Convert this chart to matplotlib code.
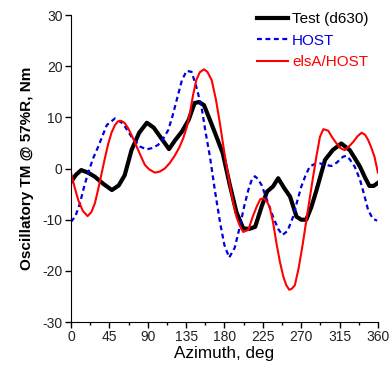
import matplotlib
matplotlib.use("Agg")
import matplotlib.pyplot as plt
from matplotlib.ticker import MultipleLocator

plt.rcParams['font.family'] = ['Liberation Sans', 'DejaVu Sans']
plt.rcParams['axes.unicode_minus'] = False

test_az = [0, 6, 12, 20, 28, 38, 48, 56, 63, 71, 80, 89, 97, 106, 115, 122, 130, 138, 145, 150, 156, 163, 170, 178, 186, 194, 202, 209, 216, 223.5, 230, 237, 243, 250, 257, 264.5, 270, 276, 282, 288, 298, 307, 317, 327, 333, 339, 345, 350, 355, 360]
test_val = [-2.6, -1.2, -0.3, -0.8, -1.6, -3.0, -4.2, -3.3, -1.3, 3.6, 7.0, 8.95, 8.0, 5.9, 3.8, 5.5, 7.2, 9.5, 12.8, 13.0, 12.4, 9.5, 6.5, 3.0, -3.0, -8.5, -11.7, -11.8, -11.4, -7.5, -4.5, -3.5, -1.9, -3.8, -5.5, -9.4, -10.0, -10.0, -7.5, -4.2, 1.7, 3.6, 4.9, 3.6, 2.0, 0.35, -1.8, -3.4, -3.4, -2.8]

host_az = [0, 5, 10.5, 15, 20, 26, 32, 42, 51.6, 61, 71, 81, 88.7, 95, 102, 108, 114, 119, 124, 130, 135.6, 141.5, 147, 153, 158, 163, 169, 175, 180, 185.6, 192, 198, 203, 208, 212, 215.7, 219, 223.5, 230, 237, 243, 248, 254, 260.6, 265, 270, 275, 280, 286, 292, 299, 305.6, 312, 319, 323, 327, 333, 339, 344, 348.5, 354, 359]
host_val = [-10.4, -9.4, -6.8, -3.8, -0.9, 2.0, 4.3, 8.5, 9.8, 8.8, 6.2, 4.3, 3.75, 4.0, 4.6, 5.8, 7.5, 10.2, 13.4, 17.2, 19.1, 18.9, 16.0, 12.1, 7.0, 2.3, -4.5, -10.7, -15.0, -17.4, -15.5, -11.4, -7.5, -4.2, -2.2, -1.5, -2.0, -3.2, -6.2, -9.4, -11.8, -13.0, -12.2, -9.4, -6.6, -3.6, -1.4, 0.4, 0.9, 1.0, 0.7, 0.5, 1.2, 2.3, 2.5, 1.8, 0.3, -2.2, -5.2, -8.1, -9.8, -10.2]

els_az = [0, 4, 8.6, 14, 19.5, 24, 28, 32, 36, 40, 43.8, 47.5, 51.6, 55, 58.6, 63, 67, 72, 77, 82, 86.7, 92, 98.5, 104, 110, 116, 122, 127, 131.6, 136, 139.5, 143, 147, 151, 156, 160, 165, 170, 174.7, 180, 186, 190, 194, 198, 202, 208, 213, 217.7, 222, 226, 230, 233, 237, 241, 245, 249, 252.5, 256, 259, 262.6, 267, 272, 278, 284, 288, 292, 296, 301.7, 306, 311.5, 316, 321, 326, 331, 336, 340.8, 345, 348.5, 352, 356, 360]
els_val = [-0.8, -3.5, -6.2, -8.3, -9.3, -8.5, -6.8, -4.0, -0.9, 2.2, 4.9, 7.0, 8.5, 9.2, 9.35, 8.9, 7.9, 6.2, 4.3, 2.4, 0.7, -0.2, -0.8, -0.6, 0.0, 1.1, 2.6, 4.1, 5.9, 8.2, 10.8, 14.2, 17.3, 18.8, 19.4, 18.9, 17.3, 13.5, 8.8, 3.0, -2.9, -6.5, -9.4, -11.2, -12.4, -12.0, -9.5, -7.5, -6.0, -5.8, -6.5, -7.5, -10.5, -14.6, -18.2, -21.1, -22.8, -23.7, -23.5, -22.8, -19.5, -14.6, -8.0, -1.6, 2.5, 6.2, 7.7, 7.4, 6.2, 4.9, 4.0, 3.6, 4.3, 5.2, 6.3, 7.0, 6.6, 5.6, 4.2, 2.3, -0.8]

x_ticks = [0, 45, 90, 135, 180, 225, 270, 315, 360]
y_ticks = [-30, -20, -10, 0, 10, 20, 30]

fig = plt.figure(figsize=(3.9, 3.68), dpi=100)
ax = fig.add_axes([0.182, 0.125, 0.787, 0.834])

ax.plot(test_az, test_val, color='black', lw=3.0, label='Test (d630)', solid_joinstyle='round')
ax.plot(host_az, host_val, color='#0000dd', lw=1.6, ls=(0, (2.2, 1.6)), label='HOST')
ax.plot(els_az, els_val, color='red', lw=1.5, label='elsA/HOST')

ax.set_xlim(0, 360)
ax.set_ylim(-30, 30)
ax.set_xticks(x_ticks)
ax.set_yticks(y_ticks)
ax.xaxis.set_minor_locator(MultipleLocator(22.5))
ax.spines['top'].set_visible(False)
ax.spines['right'].set_visible(False)
ax.tick_params(axis='both', which='major', direction='out', length=4, width=1, labelsize=10, colors='black', labelcolor='#222222', pad=2)
ax.tick_params(axis='x', which='minor', direction='out', length=2.5, width=1)

ax.set_xlabel('Azimuth, deg', fontsize=12.3, labelpad=1)
ax.set_ylabel('Oscillatory TM @ 57%R, Nm', fontsize=11, fontweight='bold', labelpad=6)

leg = ax.legend(loc='upper right', frameon=False, fontsize=11, handlelength=2.0, handletextpad=0.3,
                labelspacing=0.5, borderaxespad=0.0, bbox_to_anchor=(0.99, 1.03))
for text, line in zip(leg.get_texts(), leg.get_lines()):
    text.set_color(line.get_color())

fig.savefig('out.png', dpi=100)
